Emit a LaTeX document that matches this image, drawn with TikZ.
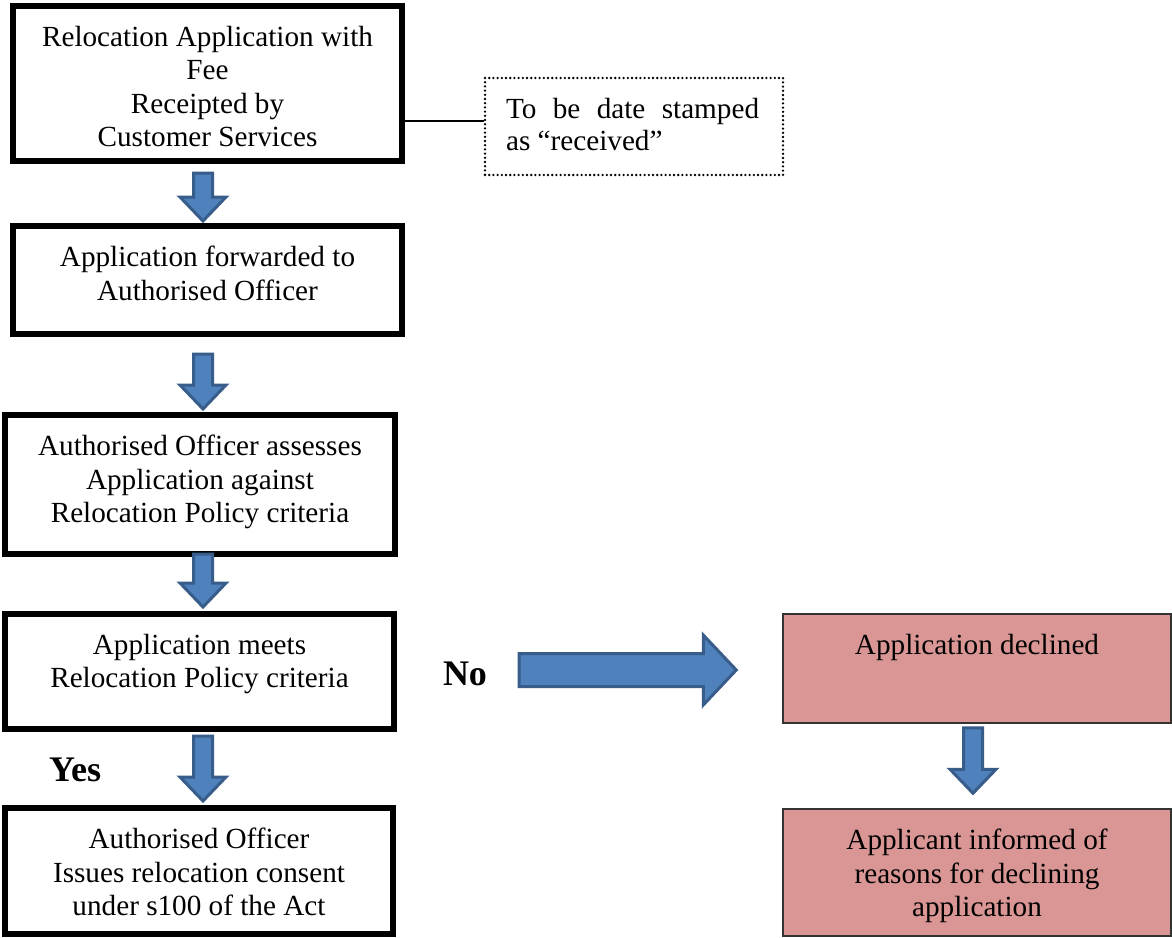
\documentclass[tikz,border=0pt]{standalone}
\usepackage{fontspec}
\setmainfont{Liberation Serif}
\usepackage{tikz}
\usetikzlibrary{calc}
\definecolor{flowblue}{RGB}{79,129,189}
\definecolor{flowedge}{RGB}{56,93,138}
\definecolor{rejfill}{RGB}{217,150,148}
\newcommand{\bodyfont}{\fontsize{14.6pt}{16.8pt}\selectfont}
\tikzset{
  stage/.style   ={rectangle, draw=black, line width=3pt, fill=white, inner sep=0pt},
  reject/.style  ={rectangle, draw=black!80, line width=0.75pt, fill=rejfill, inner sep=0pt},
  memo/.style    ={rectangle, draw=black, line width=1.3pt, dash pattern=on 0pt off 2.1pt,
                   line cap=round, inner sep=0pt},
  txt/.style     ={anchor=north, inner sep=0pt, align=center, font=\bodyfont},
  stagetxt/.style={txt, yshift=-11.25pt},
  rejtxt/.style  ={txt, yshift=-10.1pt},
  memotxt/.style ={anchor=north west, inner sep=0pt, align=left,
                   font=\fontsize{14.6pt}{16pt}\selectfont, xshift=11pt, yshift=-10.5pt},
  tie/.style     ={draw=black, line width=0.8pt},
  blk/.style     ={fill=flowblue, draw=flowedge, line width=1.5pt, line join=miter},
  answer/.style  ={font=\fontsize{18pt}{20pt}\selectfont\bfseries, inner sep=0pt}
}
% block arrow from #1 to #2: half shaft #3, half head #4, head length #5
\newcommand{\blockarrow}[5]{%
  \path #1 coordinate (bs) #2 coordinate (bt);
  \path ($(bt)!#5!(bs)$) coordinate (bh);
  \draw[blk] ($(bs)!#3!90:(bt)$) -- ($(bh)!#3!90:(bt)$) -- ($(bh)!#4!90:(bt)$)
    -- (bt) -- ($(bh)!#4!-90:(bt)$) -- ($(bh)!#3!-90:(bt)$) -- ($(bs)!#3!-90:(bt)$) -- cycle;
}

\begin{document}
\begin{tikzpicture}[x=0.5pt, y=-0.5pt]
\useasboundingbox[fill=white] (0,0) rectangle (1172,937);
\coordinate (laxis) at (203,0);
\coordinate (raxis) at (973,0);

% main column
\node[stage, minimum width=194.5pt, minimum height=77.5pt] (recv)   at (207.5,83.5) {};
\node[stage, minimum width=194.5pt, minimum height=54pt]   (fwd)    at (207.5,280)  {};
\node[stage, minimum width=195pt,   minimum height=69.5pt] (assess) at (200,484.5)  {};
\node[stage, minimum width=194.5pt, minimum height=57.5pt] (meets)  at (199.5,671.5){};
\node[stage, minimum width=194pt,   minimum height=63pt]   (issue)  at (199,871)    {};

\node[stagetxt] (recv-t)   at (recv.north)   {Relocation Application with\\Fee\\Receipted by\\Customer Services};
\node[stagetxt] (fwd-t)    at (fwd.north)    {Application forwarded to\\Authorised Officer};
\node[stagetxt] (assess-t) at (assess.north) {Authorised Officer assesses\\Application against\\Relocation Policy criteria};
\node[stagetxt] (meets-t)  at (meets.north)  {Application meets\\Relocation Policy criteria};
\node[stagetxt] (issue-t)  at (issue.north)  {Authorised Officer\\Issues relocation consent\\under s100 of the Act};

% note
\node[memo, minimum width=149pt, minimum height=48.5pt] (note) at (634,126.5) {};
\node[memotxt] (note-t) at (note.north west) {\makebox[126.5pt][s]{To be date stamped}\\as “received”};
\coordinate (tiep) at ([yshift=2.75pt]note.west);
\draw[tie] (tiep) -- (tiep -| recv.east);

% declined branch
\node[reject, minimum width=194pt, minimum height=54.5pt] (declined) at (977,668.5) {};
\node[reject, minimum width=194pt, minimum height=63.5pt] (inform)   at (977,872.5) {};
\node[rejtxt] (declined-t) at (declined.north) {Application declined};
\node[rejtxt] (inform-t)   at (inform.north)   {Applicant informed of\\reasons for declining\\application};

\node[answer] (no)  at (465,674) {No};
\node[answer] (yes) at (75,770)  {Yes};

% block arrows
\blockarrow{($(recv.south -| laxis)+(0,9)$)}{($(fwd.north -| laxis)+(0,-2)$)}{4.75pt}{11.5pt}{12pt}
\blockarrow{($(fwd.south -| laxis)+(0,17)$)}{($(assess.north -| laxis)+(0,-3)$)}{4.75pt}{11.5pt}{12pt}
\blockarrow{($(assess.south -| laxis)+(0,-3)$)}{($(meets.north -| laxis)+(0,-4)$)}{4.75pt}{11.5pt}{12pt}
\blockarrow{($(meets.south -| laxis)+(0,4)$)}{($(issue.north -| laxis)+(0,-4)$)}{4.75pt}{11.5pt}{12pt}
\blockarrow{($(declined.south -| raxis)+(0,4)$)}{($(inform.north -| raxis)+(0,-15)$)}{4.75pt}{11.5pt}{12pt}
\blockarrow{($(meets.east)+(122,-1.5)$)}{($(declined.west)+(-46,1.5)$)}{8.25pt}{17.5pt}{16.5pt}
\end{tikzpicture}
\end{document}
